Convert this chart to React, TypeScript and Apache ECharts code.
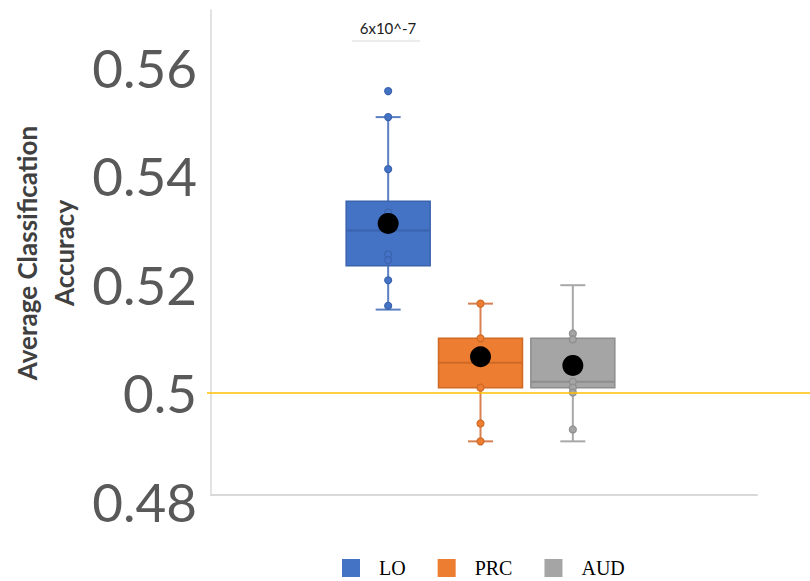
import React, { useEffect, useRef } from "react";
import * as echarts from "echarts";

const categories = ["LO", "PRC", "AUD"];
// [min, Q1, median, Q3, max]
const boxStats = [
  [0.5153, 0.5234, 0.5299, 0.5353, 0.5508],
  [0.4910, 0.5009, 0.5055, 0.5100, 0.5164],
  [0.4910, 0.5009, 0.5020, 0.5100, 0.5198],
];
const means = [0.5312, 0.5066, 0.5050];
const pointsLO = [0.5556, 0.5508, 0.5412, 0.5332, 0.5255, 0.5244, 0.5207, 0.5160];
const pointsPRC = [0.5164, 0.5100, 0.5009, 0.4943, 0.4910];
const pointsAUD = [0.5109, 0.5098, 0.5020, 0.5009, 0.5000, 0.4932];
const yTickLabels = ["0.48", "0.5", "0.52", "0.54", "0.56"];
const referenceValue = 0.5;
const annotationText = "6x10^-7";

const fills = ["#4472C4", "#ED7D31", "#A5A5A5"];
const strokes = ["#3A63AD", "#CF6A26", "#8E8E8E"];
const whiskerColors = ["#5B7FC0", "#D98050", "#A8A8A8"];

export default function App() {
  const ref = useRef<HTMLDivElement>(null);
  useEffect(() => {
    if (!ref.current) return;
    const chart = echarts.init(ref.current, null, { renderer: "svg" });
    const allPoints = [pointsLO, pointsPRC, pointsAUD];

    const boxSeries = categories.map((name, i) => ({
      name,
      type: "custom",
      xAxisIndex: 1,
      yAxisIndex: 1,
      z: 2,
      itemStyle: { color: fills[i] },
      encode: { x: 0, y: [1, 2, 3, 4, 5] },
      data: [[i, ...boxStats[i]]],
      renderItem: (params: any, api: any) => {
        const x = api.value(0);
        const pMin = api.coord([x, api.value(1)]);
        const pQ1 = api.coord([x, api.value(2)]);
        const pMed = api.coord([x, api.value(3)]);
        const pQ3 = api.coord([x, api.value(4)]);
        const pMax = api.coord([x, api.value(5)]);
        const cx = pMin[0];
        const bw = 84;
        const cap = 25;
        const wStyle = { stroke: whiskerColors[i], lineWidth: 2 };
        return {
          type: "group",
          children: [
            { type: "line", shape: { x1: cx, y1: pMax[1], x2: cx, y2: pQ3[1] }, style: wStyle },
            { type: "line", shape: { x1: cx, y1: pQ1[1], x2: cx, y2: pMin[1] }, style: wStyle },
            { type: "line", shape: { x1: cx - cap / 2, y1: pMax[1], x2: cx + cap / 2, y2: pMax[1] }, style: wStyle },
            { type: "line", shape: { x1: cx - cap / 2, y1: pMin[1], x2: cx + cap / 2, y2: pMin[1] }, style: wStyle },
            {
              type: "rect",
              shape: { x: cx - bw / 2, y: pQ3[1], width: bw, height: pQ1[1] - pQ3[1] },
              style: { fill: fills[i], stroke: strokes[i], lineWidth: 1.5 },
            },
            {
              type: "line",
              shape: { x1: cx - bw / 2, y1: pMed[1], x2: cx + bw / 2, y2: pMed[1] },
              style: { stroke: strokes[i], lineWidth: 2 },
            },
          ],
        };
      },
    }));

    const pointSeries = categories.map((name, i) => ({
      name: name + " points",
      type: "scatter",
      xAxisIndex: 1,
      yAxisIndex: 1,
      z: 3,
      symbolSize: 7,
      itemStyle: { color: fills[i], borderColor: strokes[i], borderWidth: 1.2, opacity: 1 },
      data: allPoints[i].map((v) => [i, v]),
    }));

    const meanSeries = {
      name: "Mean",
      type: "scatter",
      xAxisIndex: 1,
      yAxisIndex: 1,
      z: 4,
      symbolSize: 21,
      itemStyle: { color: "#000000", opacity: 1 },
      data: means.map((v, i) => [i, v]),
    };

    const refSeries = {
      name: "ref",
      type: "line",
      xAxisIndex: 2,
      yAxisIndex: 2,
      data: [],
      markLine: {
        silent: true,
        symbol: "none",
        label: { show: false },
        lineStyle: { color: "#FFC000", width: 1.5, type: "solid" },
        data: [{ yAxis: referenceValue }],
      },
    };

    const yCommon = { type: "value", min: 0.48, max: 0.57, interval: 0.02 };

    chart.setOption({
      animation: false,
      backgroundColor: "#ffffff",
      grid: [
        { left: 211, right: 53, top: 13, bottom: 80 },
        { left: 342, right: 191, top: 13, bottom: 80 },
        { left: 207, right: 0, top: 13, bottom: 80 },
        { left: 211, right: 53, top: 10, bottom: 86 },
      ],
      xAxis: [
        { gridIndex: 0, type: "value", min: 0, max: 1, show: false },
        { gridIndex: 1, type: "category", data: categories, show: false },
        { gridIndex: 2, type: "value", min: 0, max: 1, show: false },
        {
          gridIndex: 3,
          type: "value",
          min: 0,
          max: 1,
          axisLine: { show: true, onZero: false, lineStyle: { color: "#D9D9D9", width: 2 } },
          axisTick: { show: false },
          axisLabel: { show: false },
          splitLine: { show: false },
        },
      ],
      yAxis: [
        {
          gridIndex: 0,
          ...yCommon,
          axisLine: { show: false },
          axisTick: { show: false },
          splitLine: { show: false },
          axisLabel: {
            margin: 14,
            fontSize: 53,
            fontFamily: "Lato",
            color: "#595959",
            formatter: (v: number) => {
              const idx = Math.round((v - 0.48) / 0.02);
              if (Math.abs(0.48 + idx * 0.02 - v) > 1e-6) return "";
              return yTickLabels[idx] ?? "";
            },
          },
        },
        { gridIndex: 1, ...yCommon, show: false },
        { gridIndex: 2, ...yCommon, show: false },
        {
          gridIndex: 3,
          type: "value",
          min: 0,
          max: 1,
          axisLine: { show: true, onZero: false, lineStyle: { color: "#D9D9D9", width: 1.5 } },
          axisTick: { show: false },
          axisLabel: { show: false },
          splitLine: { show: false },
        },
      ],
      legend: {
        data: categories,
        left: 342,
        top: 558,
        padding: 0,
        itemWidth: 18,
        itemHeight: 18,
        itemGap: 32,
        icon: "rect",
        textStyle: {
          fontFamily: "Liberation Serif",
          fontSize: 20,
          lineHeight: 20,
          color: "#000000",
          padding: [0, 0, 0, 14],
        },
      },
      graphic: [
        {
          type: "text",
          x: 45,
          y: 253,
          rotation: Math.PI / 2,
          style: {
            text: "Average Classification\nAccuracy",
            fontFamily: "Lato",
            fontWeight: "bold",
            fontSize: 26,
            lineHeight: 37,
            fill: "#404040",
            textAlign: "center",
            textVerticalAlign: "middle",
          },
        },
        {
          type: "text",
          x: 388,
          y: 28,
          style: {
            text: annotationText,
            fontFamily: "Lato",
            fontSize: 15,
            fill: "#1a1a1a",
            textAlign: "center",
            textVerticalAlign: "middle",
          },
        },
        {
          type: "line",
          shape: { x1: 352, y1: 41, x2: 420, y2: 41 },
          style: { stroke: "#D9D9D9", lineWidth: 1 },
        },
      ],
      series: [refSeries, ...boxSeries, ...pointSeries, meanSeries],
    });
    return () => chart.dispose();
  }, []);
  return <div ref={ref} style={{ width: 810, height: 581, position: "absolute", left: 0, top: 0 }} />;
}
